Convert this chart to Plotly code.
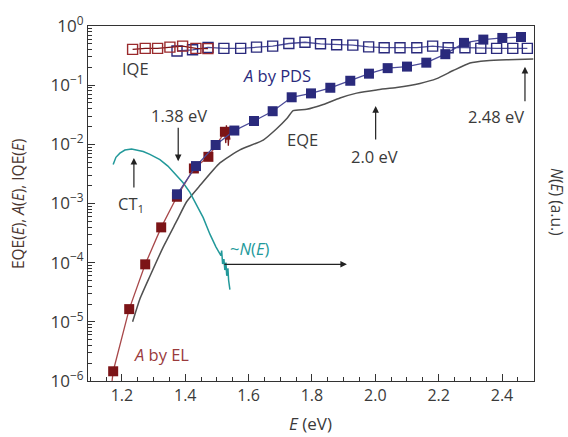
import plotly.graph_objects as go

# ---------------- data ----------------
# A by PDS (filled navy squares)
pds_E = [1.374, 1.434, 1.496, 1.555, 1.617, 1.676, 1.736, 1.797, 1.858, 1.921, 1.980,
         2.039, 2.100, 2.161, 2.221, 2.280, 2.341, 2.401, 2.460]
pds_A = [1.43e-3, 4.29e-3, 9.75e-3, 1.71e-2, 2.48e-2, 3.63e-2, 6.24e-2, 7.26e-2, 9.04e-2,
         0.1187, 0.1565, 0.194, 0.206, 0.240, 0.334, 0.519, 0.589, 0.628, 0.652]

# A by EL (filled dark-red squares)
el_E = [1.1725, 1.2231, 1.2736, 1.3241, 1.3737, 1.4273, 1.4731, 1.5252]
el_A = [1.46e-6, 1.64e-5, 9.37e-5, 3.95e-4, 1.30e-3, 3.91e-3, 6.15e-3, 1.63e-2]
# noisy end of the EL curve
el_tail_E = [1.5252, 1.528, 1.530, 1.532, 1.534, 1.536, 1.538, 1.541]
el_tail_A = [1.63e-2, 1.05e-2, 2.1e-2, 1.2e-2, 1.9e-2, 0.95e-2, 1.5e-2, 1.2e-2]
el_start_E = [1.169, 1.1725]
el_start_A = [1.0e-6, 1.46e-6]

# IQE (open squares)
iqe_blue_E = [1.374, 1.423, 1.472, 1.522, 1.575, 1.625, 1.676, 1.727, 1.778, 1.827, 1.878,
              1.929, 1.979, 2.028, 2.078, 2.131, 2.181, 2.230, 2.283, 2.333, 2.383, 2.434, 2.480]
iqe_blue = [0.378, 0.396, 0.435, 0.418, 0.418, 0.440, 0.457, 0.506, 0.531, 0.500, 0.482,
            0.475, 0.443, 0.430, 0.430, 0.430, 0.457, 0.430, 0.430, 0.418, 0.418, 0.418, 0.418]
iqe_red_E = [1.2338, 1.2736, 1.3127, 1.3516, 1.3917, 1.4337, 1.4716]
iqe_red = [0.403, 0.418, 0.418, 0.440, 0.457, 0.418, 0.414]

# EQE (grey line)
eqe_E = [1.2338, 1.2568, 1.2884, 1.3304, 1.3727, 1.4043, 1.4463, 1.5094, 1.5726, 1.6462,
         1.6885, 1.7200, 1.7409, 1.7832, 1.8356, 1.8884, 1.9411, 2.0042, 2.0674, 2.1410,
         2.1937, 2.2461, 2.2988, 2.3516, 2.4147, 2.4987]
eqe = [1.00e-5, 2.43e-5, 5.89e-5, 1.83e-4, 5.02e-4, 1.07e-3, 2.01e-3, 4.86e-3, 8.07e-3, 1.18e-2,
       1.83e-2, 2.70e-2, 3.71e-2, 3.90e-2, 4.71e-2, 6.07e-2, 7.34e-2, 8.32e-2, 9.10e-2, 0.107,
       0.129, 0.177, 0.237, 0.259, 0.269, 0.276]

# ~N(E), CT1 emission (teal line)
ne_E = [1.1725, 1.1811, 1.1937, 1.2095, 1.2306, 1.2505, 1.2673, 1.2884, 1.3200, 1.3452,
        1.3727, 1.3926, 1.4147, 1.4368, 1.4567, 1.4779, 1.4968, 1.5126, 1.515, 1.518,
        1.5221, 1.525, 1.5284, 1.531, 1.5347, 1.537, 1.5410]
ne = [4.58e-3, 6.04e-3, 7.10e-3, 8.02e-3, 8.32e-3, 8.02e-3, 7.57e-3, 6.76e-3, 5.53e-3, 4.29e-3,
      2.94e-3, 2.26e-3, 1.54e-3, 9.45e-4, 5.77e-4, 3.03e-4, 1.85e-4, 1.32e-4, 1.6e-4, 0.95e-4,
      1.15e-4, 0.75e-4, 1.0e-4, 0.6e-4, 0.8e-4, 0.5e-4, 3.5e-5]

# tick labels
y_tickvals = [1e-6, 1e-5, 1e-4, 1e-3, 1e-2, 1e-1, 1]
y_ticktext = ["10<sup>−6</sup>", "10<sup>−5</sup>", "10<sup>−4</sup>", "10<sup>−3</sup>",
              "10<sup>−2</sup>", "10<sup>−1</sup>", "10<sup>0</sup>"]
x_tickvals = [1.2, 1.4, 1.6, 1.8, 2.0, 2.2, 2.4]
x_ticktext = ["1.2", "1.4", "1.6", "1.8", "2.0", "2.2", "2.4"]

# ---------------- styling ----------------
NAVY = "#2a2a7c"
NAVY_LINE = "#4b4b98"
DRED = "#7c1417"
RED_LINE = "#a8484a"
TEAL = "#22999a"
GREY = "#505050"
TXT = "#3a3a3a"
FONT = "Open Sans"

fig = go.Figure()

fig.add_trace(go.Scatter(x=eqe_E, y=eqe, mode="lines", line=dict(color=GREY, width=1.5),
                         line_shape="spline", line_smoothing=0.5, showlegend=False))
fig.add_trace(go.Scatter(x=ne_E, y=ne, mode="lines", line=dict(color=TEAL, width=1.5),
                         showlegend=False))
fig.add_trace(go.Scatter(x=el_start_E, y=el_start_A, mode="lines",
                         line=dict(color=RED_LINE, width=1.3), showlegend=False))
fig.add_trace(go.Scatter(x=el_tail_E, y=el_tail_A, mode="lines",
                         line=dict(color=DRED, width=1.3), showlegend=False))
fig.add_trace(go.Scatter(x=el_E, y=el_A, mode="lines+markers",
                         line=dict(color=RED_LINE, width=1.3),
                         marker=dict(symbol="square", size=10, color=DRED, line=dict(width=0)),
                         showlegend=False))
fig.add_trace(go.Scatter(x=pds_E, y=pds_A, mode="lines+markers",
                         line=dict(color=NAVY_LINE, width=1.3),
                         marker=dict(symbol="square", size=10, color=NAVY, line=dict(width=0)),
                         showlegend=False))
fig.add_trace(go.Scatter(x=iqe_blue_E, y=iqe_blue, mode="lines+markers",
                         line=dict(color=NAVY_LINE, width=1.3),
                         marker=dict(symbol="square-open", size=10, color=NAVY,
                                     line=dict(width=1.4)),
                         showlegend=False))
fig.add_trace(go.Scatter(x=iqe_red_E, y=iqe_red, mode="lines+markers",
                         line=dict(color=DRED, width=1.3),
                         marker=dict(symbol="square-open", size=10, color="#9a2a2c",
                                     line=dict(width=1.4)),
                         showlegend=False))

minor_y = [k * 10.0 ** n for n in range(-6, 0) for k in range(2, 10)]

fig.update_xaxes(range=[1.093, 2.501], tickvals=x_tickvals, ticktext=x_ticktext,
                 ticks="inside", ticklen=7, tickwidth=1, tickcolor="#333",
                 showline=True, linecolor="#333", linewidth=1.2, mirror=True,
                 showgrid=False, zeroline=False,
                 minor=dict(dtick=0.05, tick0=1.0, ticks="inside", ticklen=4,
                            tickcolor="#333", showgrid=False),
                 tickfont=dict(family=FONT, size=16, color=TXT))
fig.update_yaxes(type="log", range=[-6, 0], tickvals=y_tickvals, ticktext=y_ticktext,
                 ticks="inside", ticklen=7, tickwidth=1, tickcolor="#333",
                 showline=True, linecolor="#333", linewidth=1.2, mirror=True,
                 showgrid=False, zeroline=False,
                 minor=dict(tickvals=minor_y, ticks="inside", ticklen=4,
                            tickcolor="#333", showgrid=False),
                 tickfont=dict(family=FONT, size=17, color=TXT))

ann = []
def txt(x, ly, s, color=TXT, size=16.5):
    ann.append(dict(x=x, y=ly, xref="x", yref="y", text=s, showarrow=False,
                    font=dict(family=FONT, size=size, color=color),
                    xanchor="center", yanchor="middle"))

def arrow(x, ly, ax, ay):
    ann.append(dict(x=x, y=ly, xref="x", yref="y", text="", showarrow=True,
                    ax=ax, ay=ay, arrowhead=2, arrowsize=1.1, arrowwidth=1.2,
                    arrowcolor="#222"))

txt(1.2442, -0.723, "IQE")
txt(1.6894, -0.838, "<i>A</i> by PDS", color=NAVY)
txt(1.7715, -1.923, "EQE")
txt(1.38, -1.512, "1.38 eV")
txt(1.2284, -3.008, "CT<sub>1</sub>")
txt(1.9989, -2.203, "2.0 eV")
txt(2.3825, -1.529, "2.48 eV")
txt(1.6042, -3.765, "~<i>N</i>(<i>E</i>)", color=TEAL)
txt(1.3263, -5.557, "<i>A</i> by EL", color="#9a3a3c")

arrow(1.3778, -2.285, 0, -35)
arrow(1.2379, -2.231, 0, 31)
arrow(2.0011, -1.353, 0, 35)
arrow(2.4725, -0.690, 0, 36)
arrow(1.9105, -4.028, -124, 0)

ann.append(dict(x=-0.157, y=0.501, xref="paper", yref="paper", showarrow=False,
                text="EQE(<i>E</i>), <i>A</i>(<i>E</i>), IQE(<i>E</i>)", textangle=-90,
                font=dict(family=FONT, size=15.5, color="#4a3530"),
                xanchor="center", yanchor="middle"))
ann.append(dict(x=1.0516, y=0.504, xref="paper", yref="paper", showarrow=False,
                text="<i>N</i>(<i>E</i>) (a.u.)", textangle=90,
                font=dict(family=FONT, size=15.5, color=TXT),
                xanchor="center", yanchor="middle"))
ann.append(dict(x=0.498, y=-0.1205, xref="paper", yref="paper", showarrow=False,
                text="<i>E</i> (eV)",
                font=dict(family=FONT, size=17, color=TXT),
                xanchor="center", yanchor="middle"))

fig.update_layout(width=568, height=437, margin=dict(l=88, r=34, t=16, b=56),
                  paper_bgcolor="white", plot_bgcolor="white",
                  annotations=ann, showlegend=False)

fig.write_html("out.html")
